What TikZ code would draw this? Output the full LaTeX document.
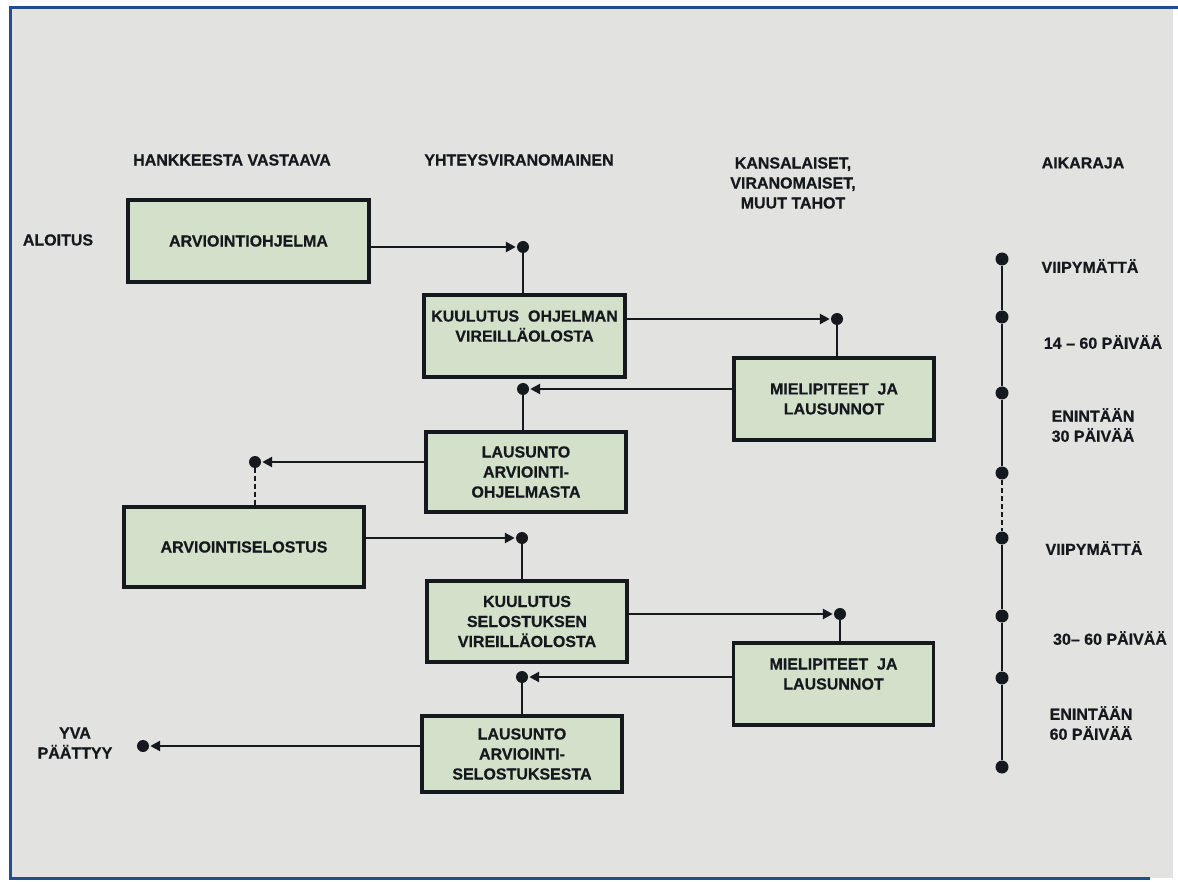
\documentclass[tikz,border=0pt]{standalone}
\usepackage{fontspec}
\setmainfont{Liberation Sans}[BoldFeatures={FakeBold=0.6}]
\usetikzlibrary{positioning, arrows.meta}
\definecolor{paper}{HTML}{E2E2E0}
\definecolor{boxfill}{HTML}{D3E1CB}
\definecolor{edge}{HTML}{1F4F8F}
\definecolor{ink}{HTML}{15191D}

\begin{document}
\begin{tikzpicture} [x=1pt, y=-1pt, text=ink,
  font=\bfseries\fontsize{16}{20}\selectfont,
  box/.style = {draw=ink, line width=3.2pt, fill=boxfill, align=center,
    inner sep=2pt, minimum width=200pt, minimum height=80pt},
  dot/.style = {circle, fill=ink, inner sep=0pt, minimum size=12pt},
  lbl/.style = {align=center},
  arr/.style = {-{Triangle[length=10pt, width=10pt]}, line width=2.8pt, draw=ink, shorten >=1pt},
  stem/.style = {line width=2pt, draw=ink}]

        % page
        \fill[white] (0,0) rectangle (1178,882); \useasboundingbox (0,0) rectangle (1178,882);
        \fill[paper] (10,8) rectangle (1173,878);
        \draw[edge, line width=3pt] (1178,8) -- (10,8) -- (10,878) -- (1150,878);

        % headers
        \node (hv) [lbl] at (232,160) {HANKKEESTA VASTAAVA};
        \node (yv) [lbl] at (519,160) {YHTEYSVIRANOMAINEN};
        \node (kv) [lbl] at (793,183) {KANSALAISET,\\VIRANOMAISET,\\MUUT TAHOT};
        \node (ak) [lbl] at (1083,163) {AIKARAJA};
        \node (alo) [lbl] at (58,240) {ALOITUS};
        \node (yva) [lbl] at (75,743) {YVA\\PÄÄTTYY};

        % boxes
        \node (ohj) [box, minimum width=241pt, minimum height=82pt] at (248.5,241) {ARVIOINTIOHJELMA};
        \node (kuul1) [box, minimum width=201pt, minimum height=82pt] at (524.5,336)
        {KUULUTUS\ \ OHJELMAN\\VIREILLÄOLOSTA\\~};
        \node (miel1) [box, minimum height=82pt] at (834,399) {MIELIPITEET\ \ JA\\LAUSUNNOT};
        \node (laus1) [box] at (526,472) {LAUSUNTO\\ARVIOINTI-\\OHJELMASTA};
        \node (selo) [box, minimum width=240pt] at (244,547) {ARVIOINTISELOSTUS};
        \node (kuul2) [box, minimum height=81pt] at (527,621.5) {KUULUTUS\\SELOSTUKSEN\\VIREILLÄOLOSTA};
        \node (miel2) [box, minimum height=82pt] at (833.5,684) {MIELIPITEET\ \ JA\\LAUSUNNOT\\~};
        \node (laus2) [box, minimum height=76pt] at (522,754) {LAUSUNTO\\ARVIOINTI-\\SELOSTUKSESTA};

        % junction dots
        \node (p1) [dot] at (523,247) {}; \node (p2) [dot] at (837,319) {};
        \node (p3) [dot] at (523,389) {}; \node (p4) [dot] at (255,462) {};
        \node (p5) [dot] at (522,538) {}; \node (p6) [dot] at (840,614) {};
        \node (p7) [dot] at (522,677) {}; \node (p8) [dot] at (143,746) {};

        \draw[arr] (ohj.east |- p1) -- (p1); \draw[stem] (p1) -- (p1 |- kuul1.north);
        \draw[arr] (kuul1.east |- p2) -- (p2); \draw[stem] (p2) -- (p2 |- miel1.north);
        \draw[arr] (miel1.west |- p3) -- (p3); \draw[stem] (p3) -- (p3 |- laus1.north);
        \draw[arr] (laus1.west |- p4) -- (p4);
        \draw[stem, dash pattern=on 5pt off 3pt] (p4) -- (p4 |- selo.north);
        \draw[arr] (selo.east |- p5) -- (p5); \draw[stem] (p5) -- (p5 |- kuul2.north);
        \draw[arr] (kuul2.east |- p6) -- (p6); \draw[stem] (p6) -- (p6 |- miel2.north);
        \draw[arr] (miel2.west |- p7) -- (p7); \draw[stem] (p7) -- (p7 |- laus2.north);
        \draw[arr] (laus2.west |- p8) -- (p8);

        % time line
        \foreach \n/\y in {1/259, 2/317, 3/393, 4/473, 5/538, 6/616, 7/678, 8/767}
          \node (t\n) [dot, minimum size=13pt] at (1002,\y) {};
        \draw[stem, line width=2.6pt] (t1) -- (t2) -- (t3) -- (t4) (t5) -- (t6) -- (t7) -- (t8);
        \draw[stem, line width=2.2pt, dash pattern=on 5pt off 3pt] (t4) -- (t5);

        \node (a1) [lbl] at (1090,266) {VIIPYMÄTTÄ};
        \node (a2) [lbl] at (1103,342) {14 – 60 PÄIVÄÄ};
        \node (a3) [lbl] at (1093,425) {ENINTÄÄN\\30 PÄIVÄÄ};
        \node (a4) [lbl] at (1094,548) {VIIPYMÄTTÄ};
        \node (a5) [lbl] at (1110,638) {30– 60 PÄIVÄÄ};
        \node (a6) [lbl] at (1091,723) {ENINTÄÄN\\60 PÄIVÄÄ};

    \end{tikzpicture}
\end{document}
